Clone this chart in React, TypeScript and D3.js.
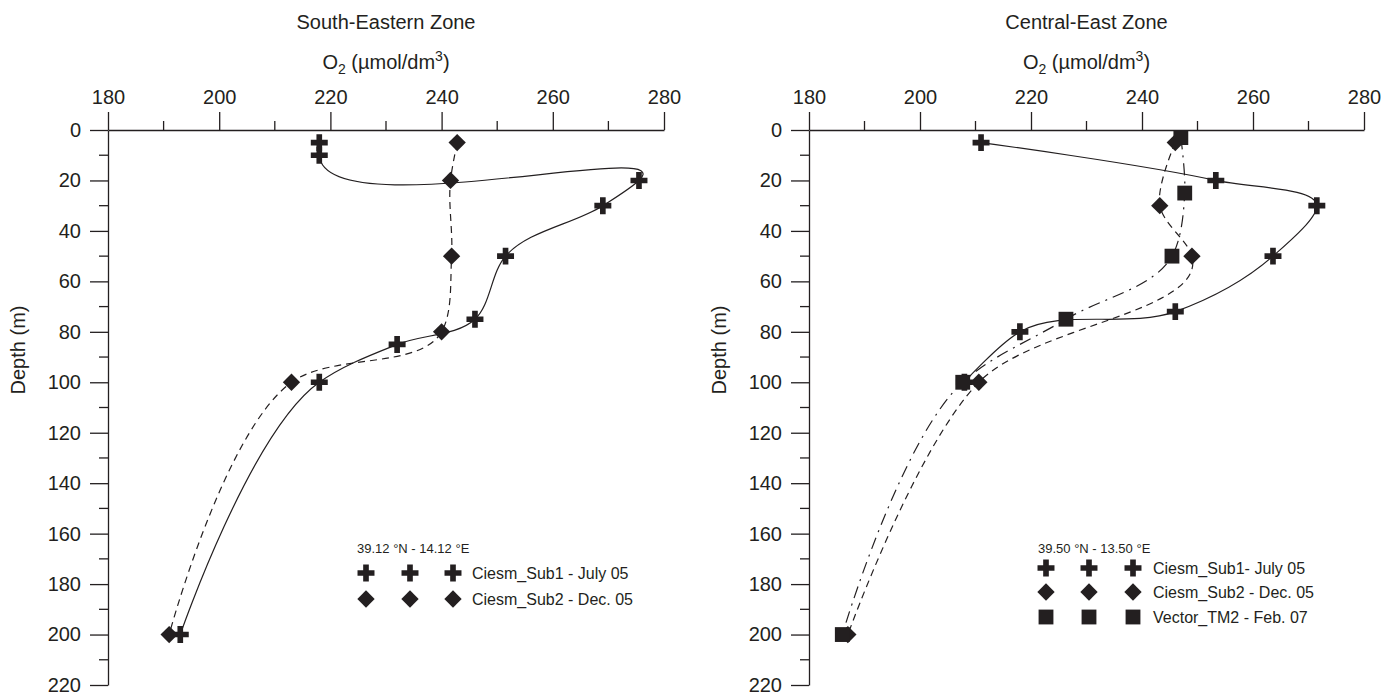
import React, { useRef, useEffect } from "react";
import * as d3 from "d3";

// South-Eastern Zone
const seDepthSub1 = [5, 10, 20, 30, 50, 75, 85, 100, 200];
const seO2Sub1 = [218, 218, 275.5, 269, 251.5, 246, 232, 218, 193];
const seDepthSub2 = [5, 20, 50, 80, 100, 200];
const seO2Sub2 = [242.8, 241.6, 241.8, 240, 213, 191];

// Central-East Zone
const ceDepthSub1 = [5, 20, 30, 50, 72, 80, 100];
const ceO2Sub1 = [211, 253.3, 271.5, 263.6, 246, 218, 208];
const ceDepthSub2 = [5, 30, 50, 100, 200];
const ceO2Sub2 = [246, 243.2, 249, 210.6, 187];
const ceDepthTm2 = [3, 25, 50, 75, 100, 200];
const ceO2Tm2 = [247, 247.7, 245.4, 226.3, 207.7, 186];

const o2Ticks = [180, 200, 220, 240, 260, 280];
const o2Minor = [190, 210, 230, 250, 270];
const depthTicks = [0, 20, 40, 60, 80, 100, 120, 140, 160, 180, 200, 220];
const depthMinor = [10, 30, 50, 70, 90, 110, 130, 150, 170, 190, 210];

const INK = "#231f20";
const FONT = "'Liberation Sans', Arial, Helvetica, sans-serif";

const panels = [
  {
    title: "South-Eastern Zone",
    station: "39.12 °N - 14.12 °E",
    x0: 108,
    x1: 664,
    legend: { x: 357, y: 553, cols: [366, 410, 453], rows: [573, 599], textX: 472 },
    series: [
      { depth: seDepthSub1, o2: seO2Sub1, marker: "cross", dash: null, label: "Ciesm_Sub1 - July 05" },
      { depth: seDepthSub2, o2: seO2Sub2, marker: "diamond", dash: "7,5", label: "Ciesm_Sub2 - Dec. 05" },
    ],
  },
  {
    title: "Central-East Zone",
    station: "39.50 °N - 13.50 °E",
    x0: 809,
    x1: 1364,
    legend: { x: 1038, y: 553, cols: [1046, 1089, 1133], rows: [568, 592, 617], textX: 1153 },
    series: [
      { depth: ceDepthSub1, o2: ceO2Sub1, marker: "cross", dash: null, label: "Ciesm_Sub1- July 05" },
      { depth: ceDepthSub2, o2: ceO2Sub2, marker: "diamond", dash: "7,5", label: "Ciesm_Sub2 - Dec. 05" },
      { depth: ceDepthTm2, o2: ceO2Tm2, marker: "square", dash: "12,6,2,6", label: "Vector_TM2 - Feb. 07" },
    ],
  },
];

function markerPath(kind: string) {
  if (kind === "cross") return d3.symbol(d3.symbolCross, 160)();
  if (kind === "diamond") return d3.symbol(d3.symbolSquare, 150)();
  return d3.symbol(d3.symbolSquare, 220)();
}

function drawMarker(g: any, kind: string, x: number, y: number) {
  g.append("path")
    .attr("d", markerPath(kind))
    .attr("fill", INK)
    .attr("transform", `translate(${x},${y})${kind === "diamond" ? " rotate(45)" : ""}`);
}

export default function App() {
  const ref = useRef<SVGSVGElement>(null);

  useEffect(() => {
    const svg = d3.select(ref.current);
    svg.selectAll("*").remove();

    const top = 130,
      bottom = 685;

    const y = d3.scaleLinear().domain([0, 220]).range([top, bottom]);

    panels.forEach(p => {
      const x = d3.scaleLinear().domain([180, 280]).range([p.x0, p.x1]);
      const g = svg.append("g").attr("font-family", FONT).attr("fill", INK);

      // titles
      const cx = (p.x0 + p.x1) / 2;
      g.append("text")
        .attr("x", cx)
        .attr("y", 29)
        .attr("text-anchor", "middle")
        .attr("font-size", 20)
        .text(p.title);

      const o2 = g
        .append("text")
        .attr("x", cx)
        .attr("y", 69)
        .attr("text-anchor", "middle")
        .attr("font-size", 20);
      o2.append("tspan").text("O");
      o2.append("tspan").attr("font-size", 14).attr("dy", 5).text("2");
      o2.append("tspan").attr("dy", -5).text(" (µmol/dm");
      o2.append("tspan").attr("font-size", 14).attr("dy", -8).text("3");
      o2.append("tspan").attr("dy", 8).text(")");

      g.append("text")
        .attr("transform", `translate(${p.x0 - 83},350) rotate(-90)`)
        .attr("text-anchor", "middle")
        .attr("font-size", 20)
        .text("Depth (m)");

      // axes
      const xAxis = g
        .append("g")
        .attr("transform", `translate(0,${top})`)
        .call(
          d3.axisTop(x).tickValues(o2Ticks).tickSize(18).tickSizeOuter(0).tickPadding(8).tickFormat(d3.format("d"))
        );
      xAxis
        .selectAll(".minor")
        .data(o2Minor)
        .enter()
        .append("line")
        .attr("x1", d => x(d))
        .attr("x2", d => x(d))
        .attr("y1", 0)
        .attr("y2", -9)
        .attr("stroke", INK);

      const yAxis = g
        .append("g")
        .attr("transform", `translate(${p.x0},0)`)
        .call(
          d3.axisLeft(y).tickValues(depthTicks).tickSize(18).tickSizeOuter(0).tickPadding(9).tickFormat(d3.format("d"))
        );
      yAxis
        .selectAll(".minor")
        .data(depthMinor)
        .enter()
        .append("line")
        .attr("x1", 0)
        .attr("x2", -9)
        .attr("y1", d => y(d))
        .attr("y2", d => y(d))
        .attr("stroke", INK);

      [xAxis, yAxis].forEach(a => {
        a.selectAll("path, line").attr("stroke", INK).attr("stroke-width", 1.3);
        a.selectAll("text").attr("font-size", 20).attr("font-family", FONT).attr("fill", INK);
      });

      // profiles
      p.series.forEach(s => {
        const pts = s.depth.map((d, i) => [s.o2[i], d]);
        const line = d3
          .line()
          .x(d => x(d[0]))
          .y(d => y(d[1]))
          .curve(d3.curveCatmullRom.alpha(0.9));
        g.append("path")
          .attr("d", line(pts as any))
          .attr("fill", "none")
          .attr("stroke", INK)
          .attr("stroke-width", 1.2)
          .attr("stroke-dasharray", s.dash);
      });

      p.series.forEach(s => {
        s.depth.forEach((d, i) => drawMarker(g, s.marker, x(s.o2[i]), y(d)));
      });

      // legend
      g.append("text")
        .attr("x", p.legend.x)
        .attr("y", p.legend.y)
        .attr("font-size", 13)
        .text(p.station);

      p.series.forEach((s, i) => {
        const ry = p.legend.rows[i];
        p.legend.cols.forEach(c => drawMarker(g, s.marker, c, ry));
        g.append("text")
          .attr("x", p.legend.textX)
          .attr("y", ry + 6)
          .attr("font-size", 16)
          .text(s.label);
      });
    });
  }, []);

  return (
    <svg
      ref={ref}
      width={1400}
      height={695}
      style={{ position: "absolute", left: 0, top: 0, background: "#fff" }}
    />
  );
}
